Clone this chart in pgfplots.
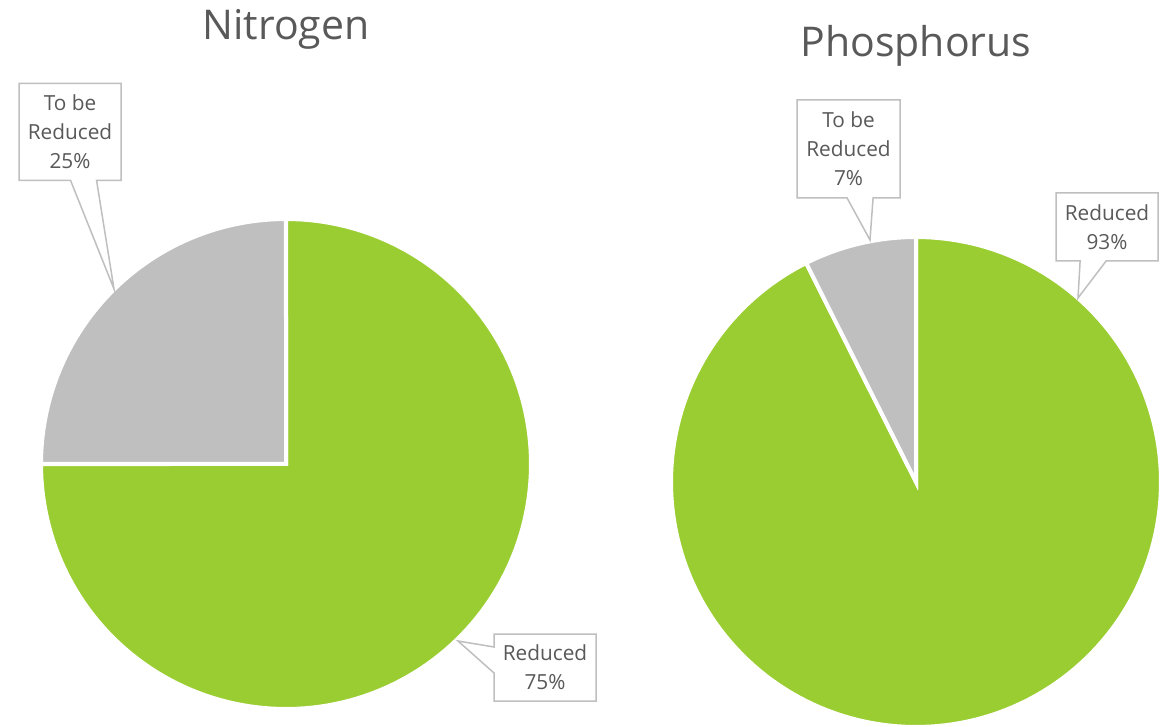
\documentclass[border=0pt]{standalone}
\usepackage{pgfplots}
\pgfplotsset{compat=1.18}
\usepackage{fontspec}
\setmainfont{Open Sans}
\usetikzlibrary{shapes.callouts}
\definecolor{pgreen}{HTML}{9ACD32}
\definecolor{pgray}{HTML}{BFBFBF}
\definecolor{ptext}{HTML}{595959}
\definecolor{pbox}{HTML}{BFBFBF}
\tikzset{callbox/.style={rectangle callout, draw=pbox, line width=0.75bp, fill=white,
     align=center, inner sep=0pt, callout pointer width=13bp, text=ptext,
     font=\fontsize{10.4bp}{14.5bp}\selectfont},
   ttl/.style={anchor=base, text=ptext, font=\fontsize{20.5bp}{24bp}\selectfont}}
% data (percent)
\def\Nred{75}\def\Nto{25}
\def\Pred{92.6}\def\Pto{7.4}
\begin{document}
\begin{tikzpicture}
\pgfmathsetmacro{\Nsplit}{90-3.6*\Nred}
\pgfmathsetmacro{\Psplit}{90-3.6*\Pred}
\begin{axis}[
  scale only axis, width=587.5bp, height=363.5bp,
  xmin=0, xmax=1175, ymin=0, ymax=727,
  hide axis, clip=false,
]
% Nitrogen pie
\addplot[fill=pgreen, draw=white, line width=2bp, domain=90:\Nsplit, samples=150, variable=\t]
  ({286+245*cos(\t)}, {263+245*sin(\t)}) -- (286,263) -- cycle;
\addplot[fill=pgray, draw=white, line width=2bp, domain=\Nsplit:-270, samples=60, variable=\t]
  ({286+245*cos(\t)}, {263+245*sin(\t)}) -- (286,263) -- cycle;
% Phosphorus pie
\addplot[fill=pgreen, draw=white, line width=2bp, domain=90:\Psplit, samples=180, variable=\t]
  ({916+245*cos(\t)}, {245+245*sin(\t)}) -- (916,245) -- cycle;
\addplot[fill=pgray, draw=white, line width=2bp, domain=\Psplit:-270, samples=20, variable=\t]
  ({916+245*cos(\t)}, {245+245*sin(\t)}) -- (916,245) -- cycle;
% titles
\node[ttl] at (286,687) {Nitrogen};
\node[ttl] at (916,670) {Phosphorus};
% data labels
\node[callbox, minimum width=51bp, minimum height=48.5bp,
  callout absolute pointer={(114,438)}] at (70,595) {To be\\Reduced\\25\%};
\node[callbox, minimum width=51bp, minimum height=33.5bp,
  callout absolute pointer={(458,86)}] at (545,59.5) {Reduced\\75\%};
\node[callbox, minimum width=51.5bp, minimum height=49bp,
  callout absolute pointer={(870,487)}] at (848.5,578) {To be\\Reduced\\7\%};
\node[callbox, minimum width=51bp, minimum height=34bp,
  callout absolute pointer={(1078,429)}] at (1107,500) {Reduced\\93\%};
\coordinate (bl) at (0,0);
\coordinate (tr) at (1175,727);
\end{axis}
\pgfresetboundingbox
\path (bl) rectangle (tr);
\end{tikzpicture}
\end{document}
